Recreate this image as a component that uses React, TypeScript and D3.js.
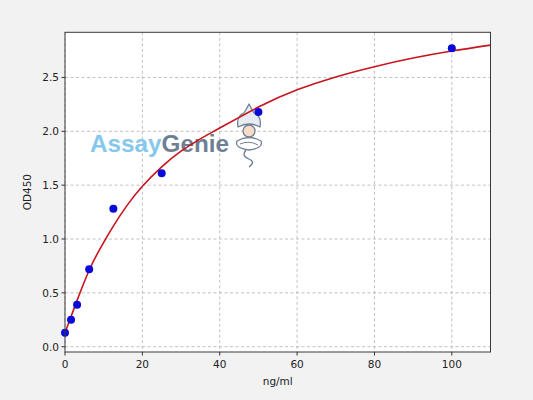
import React from 'react'
import * as d3 from 'd3'

// standards: concentration (ng/ml) and measured OD450
const concentrations = [0, 1.5625, 3.125, 6.25, 12.5, 25, 50, 100]
const odValues = [0.13, 0.25, 0.39, 0.72, 1.28, 1.61, 2.18, 2.77]

// fitted curve
const curveX = [0, 1.5625, 3.125, 6.25, 9.375, 12.5, 16, 20, 25, 30, 35, 40, 50, 60, 70, 80, 90, 100, 110]
const curveY = [0.13, 0.28, 0.43, 0.71, 0.93, 1.12, 1.31, 1.49, 1.67, 1.815, 1.93, 2.03, 2.225, 2.385, 2.505, 2.6, 2.68, 2.745, 2.8]

const xTicks = [0, 20, 40, 60, 80, 100]
const yTicks = [0, 0.5, 1.0, 1.5, 2.0, 2.5]

const W = 533
const H = 400
const plot = { left: 65, right: 490.5, top: 32.3, bottom: 352 }
const font = 'DejaVu Sans, sans-serif'

export default function App() {
  const x = d3.scaleLinear().domain([0, 110]).range([plot.left, plot.right])
  const y = d3.scaleLinear().domain([-0.049, 2.919]).range([plot.bottom, plot.top])

  const line = d3.line<number>()
    .x((_, i) => x(curveX[i]))
    .y(d => y(d))
    .curve(d3.curveNatural)

  const pw = plot.right - plot.left
  const ph = plot.bottom - plot.top

  return (
    <svg width={W} height={H} style={{ position: 'absolute', left: 0, top: 0, display: 'block' }}
      fontFamily={font}>
      <rect width={W} height={H} fill="#f2f2f2" />
      <rect x={plot.left} y={plot.top} width={pw} height={ph} fill="#ffffff" />

      {/* grid */}
      <g stroke="#b0b0b0" strokeWidth={0.8} strokeDasharray="3,2.5">
        {xTicks.map(t => <line key={'gx' + t} x1={x(t)} x2={x(t)} y1={plot.top} y2={plot.bottom} />)}
        {yTicks.map(t => <line key={'gy' + t} x1={plot.left} x2={plot.right} y1={y(t)} y2={y(t)} />)}
      </g>

      {/* watermark */}
      <g>
        <text x={90} y={152} fontFamily="Liberation Sans, Arial, sans-serif" fontSize={24.5} fontWeight="bold"
          textLength={139} lengthAdjust="spacingAndGlyphs">
          <tspan fill="#86c8ec">Assay</tspan><tspan fill="#6e7f94">Genie</tspan>
        </text>
        <g stroke="#6e7f94" strokeWidth={1.3} fill="#ffffff" strokeLinejoin="round">
          {/* turban */}
          <path d="M238,127 Q236,116 244,113 Q247,108 249,104 Q251,108 254,113 Q262,116 260,127 Q249,121 238,127 Z" fill="#e6ecf2" />
          {/* face */}
          <circle cx={249} cy={131} r={6} fill="#f6dcc6" />
          {/* arms and body */}
          <path d="M237,141 Q249,134 261,141 Q264,148 249,150 Q234,148 237,141 Z" fill="#ffffff" />
          <path d="M240,144 Q249,140 258,145" fill="none" strokeWidth={1} />
          <path d="M246,150 Q241,156 249,159 Q256,162 249,167" fill="none" />
        </g>
      </g>

      {/* fitted curve */}
      <path d={line(curveY) || ''} fill="none" stroke="#c8141e" strokeWidth={1.6} />

      {/* points */}
      {concentrations.map((c, i) => (
        <circle key={'p' + i} cx={x(c)} cy={y(odValues[i])} r={4} fill="#0a0ad8" />
      ))}

      {/* spines */}
      <rect x={plot.left} y={plot.top} width={pw} height={ph} fill="none" stroke="#3a3a3a" strokeWidth={1} />

      {/* ticks and labels */}
      <g fontSize={10.5} fill="#222">
        {xTicks.map(t => (
          <g key={'tx' + t}>
            <line x1={x(t)} x2={x(t)} y1={plot.bottom} y2={plot.bottom + 3.5} stroke="#333" />
            <text x={x(t)} y={plot.bottom + 15.5} textAnchor="middle">{t}</text>
          </g>
        ))}
        {yTicks.map(t => (
          <g key={'ty' + t}>
            <line x1={plot.left - 3.5} x2={plot.left} y1={y(t)} y2={y(t)} stroke="#333" />
            <text x={plot.left - 6} y={y(t) + 3.8} textAnchor="end">{d3.format('.1f')(t)}</text>
          </g>
        ))}
        <text x={(plot.left + plot.right) / 2} y={385} textAnchor="middle">ng/ml</text>
        <text transform={`translate(31,${(plot.top + plot.bottom) / 2}) rotate(-90)`} textAnchor="middle">OD450</text>
      </g>
    </svg>
  )
}
